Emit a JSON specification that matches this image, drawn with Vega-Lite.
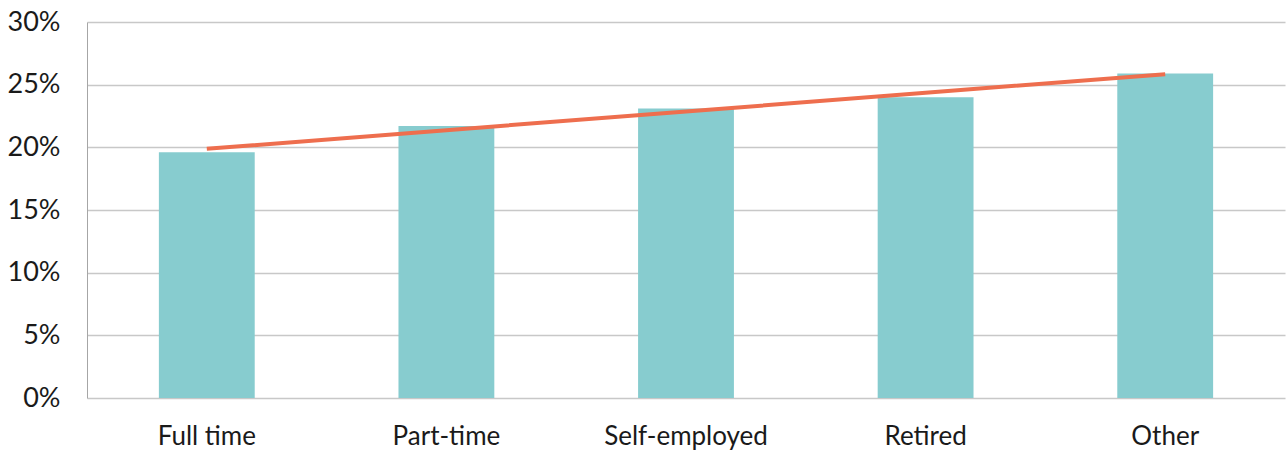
{
  "$schema": "https://vega.github.io/schema/vega-lite/v6.json",
  "width": 1198,
  "height": 376,
  "autosize": {"type": "none"},
  "padding": {"left": 87, "top": 22, "right": 2, "bottom": 54},
  "background": "white",
  "config": {"view": {"stroke": null}, "font": "Lato"},
  "data": {"values": [
    {"status": "Full time", "share": 0.196, "trend": 0.1988},
    {"status": "Part-time", "share": 0.217, "trend": 0.2137},
    {"status": "Self-employed", "share": 0.231, "trend": 0.2286},
    {"status": "Retired", "share": 0.240, "trend": 0.2435},
    {"status": "Other", "share": 0.259, "trend": 0.2584}
  ]},
  "encoding": {
    "x": {"field": "status", "type": "nominal", "sort": null,
      "scale": {"paddingInner": 0.6, "paddingOuter": 0.3},
      "axis": {"title": null, "labelAngle": 0, "labelFontSize": 26, "labelColor": "#1a1a1a", "labelPadding": 25, "ticks": false, "domain": false, "labelFont": "Lato"}}
  },
  "layer": [
    {"mark": {"type": "bar", "color": "#87CCCF"},
     "encoding": {"y": {"field": "share", "type": "quantitative",
       "scale": {"domain": [0, 0.3]},
       "axis": {"title": null, "format": ".0%", "values": [0, 0.05, 0.1, 0.15, 0.2, 0.25, 0.3], "labelFontSize": 27, "labelColor": "#1a1a1a", "labelPadding": 27, "ticks": false, "domainColor": "#a6a6a6", "gridColor": "#c8c8c8", "gridWidth": 1.5, "labelFont": "Lato"}}}},
    {"mark": {"type": "line", "color": "#EE6E4E", "strokeWidth": 4},
     "encoding": {"y": {"field": "trend", "type": "quantitative"}}}
  ]
}
